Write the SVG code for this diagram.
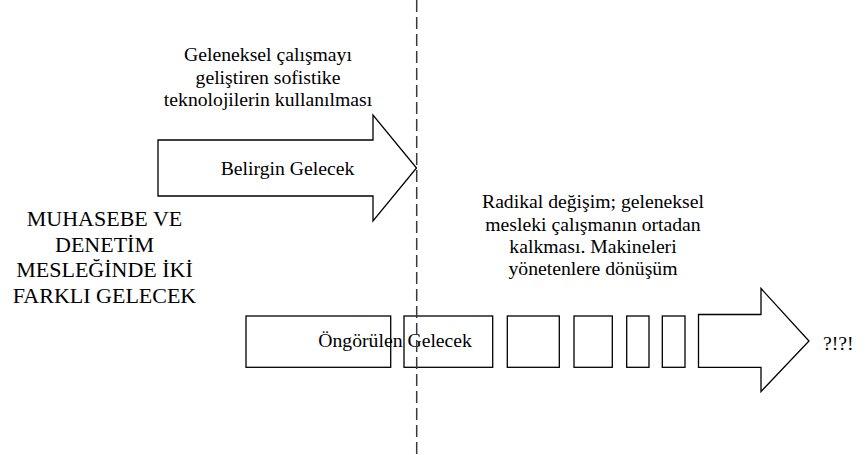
<svg xmlns="http://www.w3.org/2000/svg" width="866" height="455" viewBox="0 0 866 455">
  <style>
    .shape { fill: #ffffff; stroke: #000000; stroke-width: 1.3; stroke-linejoin: miter; }
    .divider { fill: none; stroke: #3a3a3a; stroke-width: 1.5; stroke-dasharray: 12 5; }
    .txt { font-family: "Liberation Serif", "Times New Roman", serif; font-size: 19.7px; fill: #000000; text-anchor: middle; }
    .title { font-size: 22px; }
    .left { text-anchor: start; }
  </style>
  <rect width="866" height="455" fill="#ffffff"/>

  <!-- upper block arrow: the evident future -->
  <g id="belirgin-gelecek">
    <polygon class="shape" points="158,140 373,140 373,115 416.5,168 373,221 373,196 158,196"/>
    <text class="txt" x="287.5" y="175">Belirgin Gelecek</text>
  </g>

  <!-- caption above the upper arrow -->
  <g id="geleneksel-not">
    <text class="txt" x="268" y="61">Geleneksel çalışmayı</text>
    <text class="txt" x="268" y="83.5">geliştiren sofistike</text>
    <text class="txt" x="268" y="106">teknolojilerin kullanılması</text>
  </g>

  <!-- main heading on the left -->
  <g id="baslik">
    <text class="txt title" x="104.5" y="225.7">MUHASEBE VE</text>
    <text class="txt title" x="104.5" y="251.5">DENETİM</text>
    <text class="txt title" x="104.5" y="277.3">MESLEĞİNDE İKİ</text>
    <text class="txt title" x="104.5" y="303">FARKLI GELECEK</text>
  </g>

  <!-- caption above the lower arrow -->
  <g id="radikal-not">
    <text class="txt" x="593" y="208.3">Radikal değişim; geleneksel</text>
    <text class="txt" x="593" y="230.5">mesleki çalışmanın ortadan</text>
    <text class="txt" x="593" y="252.5">kalkması. Makineleri</text>
    <text class="txt" x="593" y="274.5">yönetenlere dönüşüm</text>
  </g>

  <!-- lower segmented arrow: the foreseen future -->
  <g id="ongorulen-gelecek">
    <rect class="shape" x="246" y="316" width="144.7" height="51.3"/>
    <rect class="shape" x="404" y="316" width="88.7" height="51.3"/>
    <rect class="shape" x="507.3" y="316" width="52" height="51.3"/>
    <rect class="shape" x="574" y="316" width="38.3" height="51.3"/>
    <rect class="shape" x="626.7" y="316" width="22.3" height="51.3"/>
    <rect class="shape" x="662.3" y="316" width="22.7" height="51.3"/>
    <polygon class="shape" points="698.5,314.5 761,314.5 761,288.5 809,341 761,391.5 761,367.3 698.5,367.3"/>
    <text class="txt left" x="318.3" y="346.7">Öngörülen Gelecek</text>
  </g>

  <g id="soru">
    <text class="txt left" x="823" y="350">?!?!</text>
  </g>

  <!-- dashed divider between the two futures -->
  <g id="connectors">
    <line class="divider" x1="416.7" y1="0" x2="416.7" y2="455"/>
  </g>
</svg>
